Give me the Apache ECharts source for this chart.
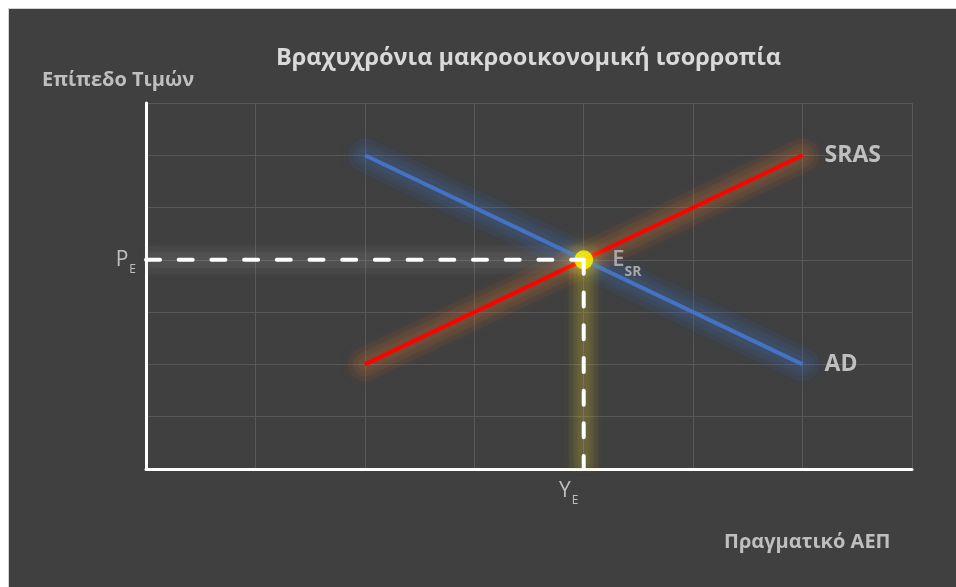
<!DOCTYPE html>
<html>
<head>
<meta charset="utf-8">
<script src="https://cdn.jsdelivr.net/npm/echarts@6/dist/echarts.min.js"></script>
<style>
  html, body { margin: 0; padding: 0; background: #ffffff; width: 956px; height: 587px; overflow: hidden; }
  #frame { position: absolute; left: 8px; top: 8px; width: 960px; height: 600px; background: #404040; border: 1px solid #d4d4d4; box-sizing: border-box; }
  #chart { position: absolute; left: 0; top: 0; width: 956px; height: 587px; }
</style>
</head>
<body>
<div id="frame"></div>
<div id="chart"></div>
<script>
// Axis range and tick labels (only the equilibrium levels are named)
const axisMax = 7;
const quantityTickLabels = ['', '', '', '', '{m|Y}{s|E}', '', '', ''];
const priceTickLabels = ['', '', '', '', '{m|P}{s|E}', '', '', ''];

// Curves as [Real GDP, Price level] points
const adCurve = [[2, 6], [6, 2]];
const srasCurve = [[2, 2], [6, 6]];
const equilibrium = [[4, 4]];

// Guide lines from the equilibrium point to the axes
const priceGuide = [[0, 4], [4, 4]];
const outputGuide = [[4, 4], [4, 0]];

const labelGrey = '#bfbfbf';
const font = 'Open Sans';

const chart = echarts.init(document.getElementById('chart'), null, { renderer: 'canvas' });

const subRich = {
  m: { fontFamily: font, fontSize: 21, color: labelGrey, lineHeight: 26 },
  s: { fontFamily: font, fontSize: 12, color: labelGrey, lineHeight: 14, verticalAlign: 'bottom', padding: [0, 0, -3, 1] }
};

// soft halo under a curve: a few stacked translucent strokes, each blurred
function glow(name, data, rgb, widths, alpha, blur, cap) {
  return widths.map((w, i) => ({
    name: name + i, type: 'line', data: data, symbol: 'none', z: 1, silent: true,
    lineStyle: {
      color: 'rgba(' + rgb + ',' + alpha + ')', width: w, cap: cap,
      shadowBlur: blur, shadowColor: 'rgba(' + rgb + ',1)'
    }
  }));
}

chart.setOption({
  backgroundColor: 'transparent',
  animation: false,
  title: [
    {
      text: 'Βραχυχρόνια μακροοικονομική ισορροπία',
      left: 271, top: 41,
      textStyle: { fontFamily: font, fontWeight: 'bold', fontSize: 23.5, color: '#d9d9d9' }
    },
    {
      text: 'Επίπεδο Τιμών',
      left: 37, top: 65,
      textStyle: { fontFamily: font, fontWeight: 'bold', fontSize: 20, color: labelGrey }
    },
    {
      text: 'Πραγματικό ΑΕΠ',
      left: 719, top: 527,
      textStyle: { fontFamily: font, fontWeight: 'bold', fontSize: 20, color: labelGrey }
    }
  ],
  grid: { left: 146, right: 44, top: 103, bottom: 118 },
  xAxis: {
    type: 'value', min: 0, max: axisMax, interval: 1,
    axisLine: { show: true, lineStyle: { color: '#ffffff', width: 3 } },
    axisTick: { show: false },
    splitLine: { show: true, lineStyle: { color: '#595959', width: 1 } },
    axisLabel: {
      show: true, margin: 9, padding: [0, 30, 0, 0],
      formatter: (v) => quantityTickLabels[v] || '',
      rich: subRich
    }
  },
  yAxis: {
    type: 'value', min: 0, max: axisMax, interval: 1,
    axisLine: { show: true, lineStyle: { color: '#ffffff', width: 3 } },
    axisTick: { show: false },
    splitLine: { show: true, lineStyle: { color: '#595959', width: 1 } },
    axisLabel: {
      show: true, margin: 10,
      formatter: (v) => priceTickLabels[v] || '',
      rich: subRich
    }
  },
  series: [
    ...glow('adGlow', adCurve, '68,114,196', [34, 24, 14], 0.06, 12, 'round'),
    ...glow('srasGlow', srasCurve, '237,125,49', [34, 24, 14], 0.055, 12, 'round'),
    ...glow('priceGlow', priceGuide, '180,180,180', [28, 16], 0.045, 10, 'butt'),
    ...glow('outputGlow', outputGuide, '210,205,60', [30, 20, 12], 0.055, 10, 'butt'),
    {
      name: 'AD', type: 'line', data: adCurve, symbol: 'none', z: 3,
      lineStyle: { color: '#4472c4', width: 4 },
      endLabel: { show: true, formatter: 'AD', distance: 22, fontFamily: font, fontWeight: 'bold', fontSize: 23, color: labelGrey }
    },
    {
      name: 'SRAS', type: 'line', data: srasCurve, symbol: 'none', z: 4,
      lineStyle: { color: '#ff0000', width: 4 },
      endLabel: { show: true, formatter: 'SRAS', distance: 22, fontFamily: font, fontWeight: 'bold', fontSize: 23, color: labelGrey }
    },
    {
      name: 'E', type: 'scatter', data: equilibrium, symbol: 'circle', symbolSize: 19, z: 5,
      itemStyle: { color: '#ffff00', shadowBlur: 20, shadowColor: 'rgba(255,235,0,1)' },
      label: {
        show: true, position: 'right', distance: 19,
        formatter: '{e|E}{s|SR}',
        rich: {
          e: { fontFamily: font, fontWeight: 600, fontSize: 22, color: labelGrey, lineHeight: 28 },
          s: { fontFamily: font, fontWeight: 'bold', fontSize: 14, color: labelGrey, lineHeight: 16, verticalAlign: 'bottom', padding: [0, 0, -5, 0] }
        }
      }
    },
    {
      name: 'priceDash', type: 'line', data: priceGuide, symbol: 'none', z: 6, silent: true,
      lineStyle: { color: '#ffffff', width: 4, type: [14, 18.7], cap: 'round' }
    },
    {
      name: 'outputDash', type: 'line', data: outputGuide, symbol: 'none', z: 6, silent: true,
      lineStyle: { color: '#ffffff', width: 4, type: [14, 18.7], cap: 'round' }
    }
  ]
});
</script>
</body>
</html>
